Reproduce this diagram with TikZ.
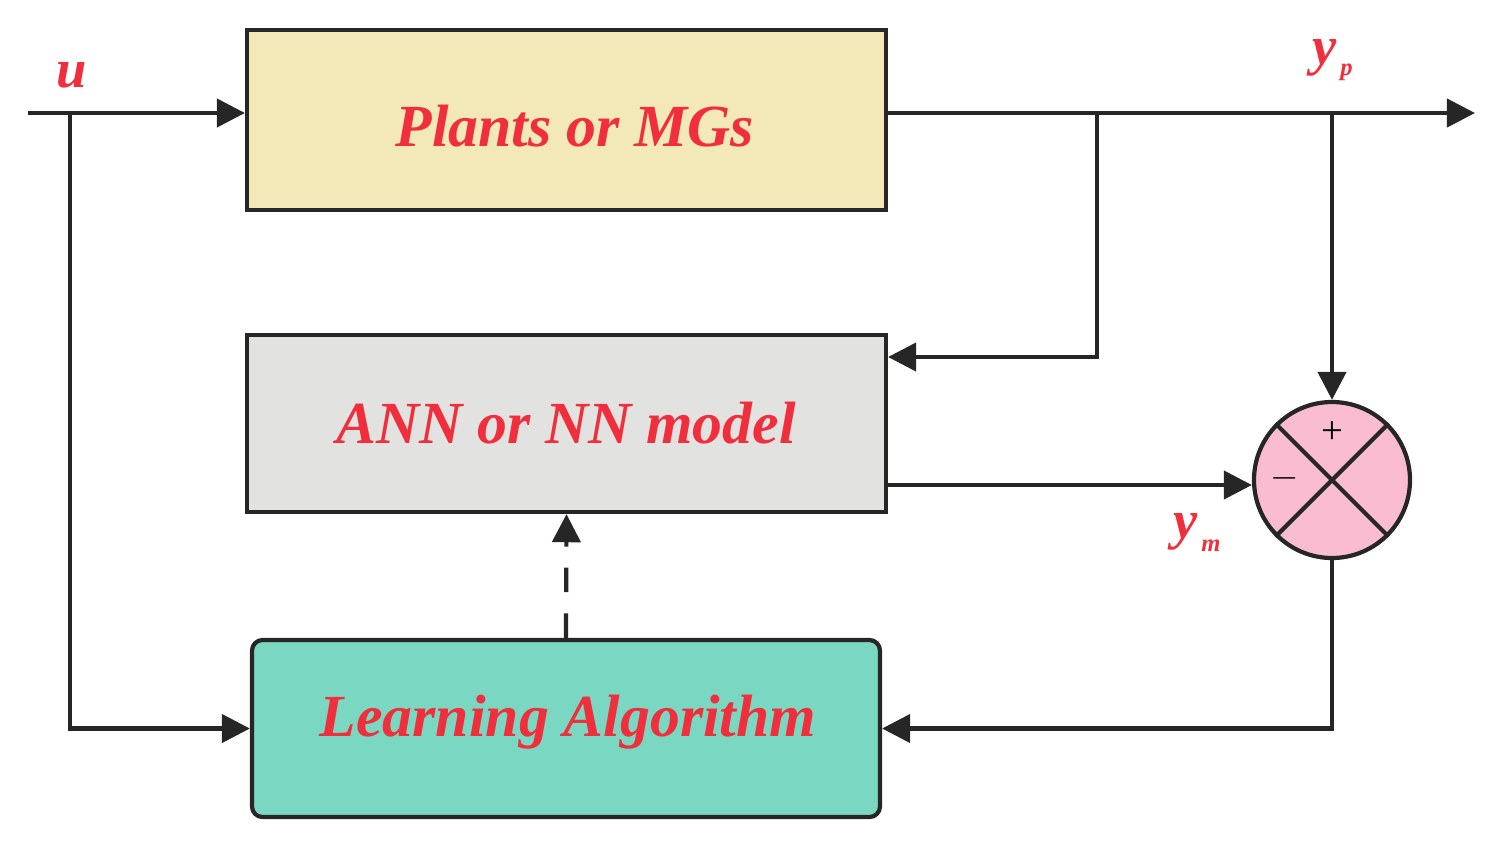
\documentclass[tikz,border=0pt]{standalone}
\usepackage{fontspec}
\setmainfont{Liberation Serif}
\usetikzlibrary{arrows.meta}
\definecolor{txt}{HTML}{F02E3C}
\begin{document}
\begin{tikzpicture}[x=0.02cm,y=-0.02cm,
  box/.style={draw=black!85,line width=2.4pt,inner sep=0pt},
  lbl/.style={text=txt,font=\fontsize{34}{38}\selectfont\bfseries\itshape},
  sym/.style={text=txt,font=\fontsize{31}{34}\selectfont\bfseries\itshape},
  wire/.style={draw=black!85,line width=2.4pt},
  arr/.style={wire,-{Triangle[length=16pt,width=16pt]}}]
\useasboundingbox (0,0) rectangle (1498,843);
\node[box,fill={rgb,255:red,242;green,232;blue,184},minimum width=639*0.02cm,minimum height=180*0.02cm] (plant) at (566.5,120) {};
\node[lbl] at (575,126) {Plants or MGs};
\node[box,fill={rgb,255:red,226;green,227;blue,224},minimum width=639*0.02cm,minimum height=177*0.02cm] (ann) at (566.5,423.5) {};
\node[lbl] at (566,423) {ANN or NN model};
\node[box,rounded corners=6pt,fill={rgb,255:red,122;green,216;blue,194},minimum width=628*0.02cm,minimum height=177*0.02cm] (learn) at (566,728.5) {};
\node[lbl] at (568,722) {Learning Algorithm};
\node[box,circle,fill={rgb,255:red,249;green,188;blue,208},minimum size=156*0.02cm] (sum) at (1332,480) {};
\draw[wire] (sum.north east) -- (sum.south west);
\draw[wire] (sum.north west) -- (sum.south east);
\node[font=\fontsize{22}{24}\selectfont] (plus) at (1332,433) {+};
\node[font=\fontsize{22}{24}\selectfont] (minus) at (1285,478) {$-$};
\coordinate (in) at (28,113);
\coordinate (bu) at (70,113);
\coordinate (out) at (1475,113);
\coordinate (b1) at (1097,113);
\coordinate (b2) at (1332,113);
\draw[arr] (in) -- (plant.west |- in);
\draw[arr] (bu) |- (learn.west);
\draw[arr] (plant.east |- in) -- (out);
\draw[arr] (b1) |- (ann.east |- 0,357);
\draw[arr] (b2) -- (sum.north);
\draw[arr] (ann.east |- 0,485) -- (sum.west |- 0,485);
\draw[arr] (sum.south) |- (learn.east);
\draw[arr,dash pattern=on 14pt off 12pt] (learn.north) -- (ann.south);
\node[sym] (u) at (72,75) {u};
\node[sym,inner sep=1pt] (yp) at (1325,58) {y};
\node[text=txt,font=\fontsize{14}{14}\selectfont\bfseries\itshape,anchor=west,inner sep=0pt] (ypsub) at (1340,72) {p};
\node[sym,inner sep=1pt] (ym) at (1186,532) {y};
\node[text=txt,font=\fontsize{14}{14}\selectfont\bfseries\itshape,anchor=west,inner sep=0pt] (ymsub) at (1201,546) {m};
\end{tikzpicture}
\end{document}
